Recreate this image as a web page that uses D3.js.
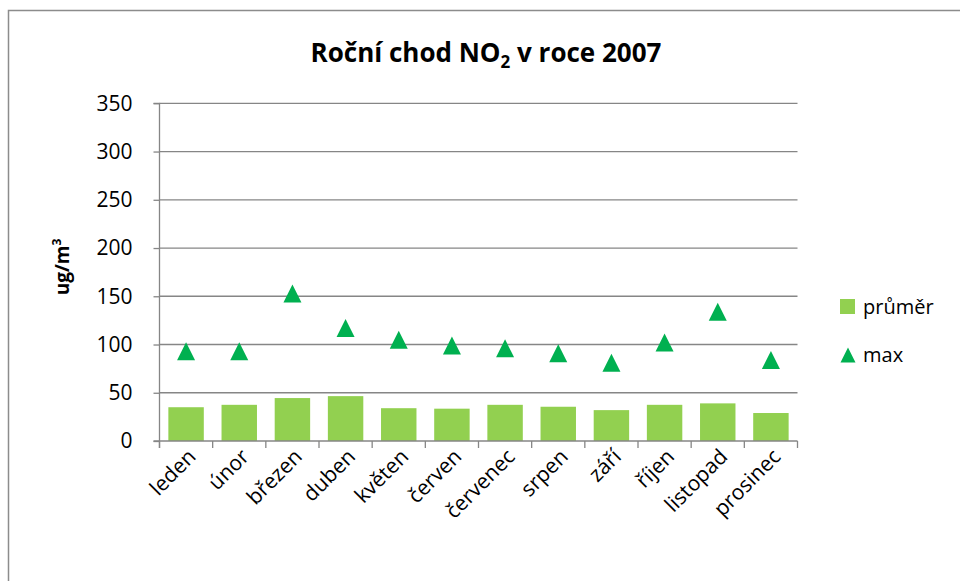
<!DOCTYPE html>
<html>
<head>
<meta charset="utf-8">
<script src="https://cdn.jsdelivr.net/npm/d3@7"></script>
<style>
  body { margin: 0; background: #fff; }
  svg { display: block; font-family: "Open Sans", sans-serif; }
</style>
</head>
<body>
<svg width="960" height="581"></svg>
<script>
// monthly NO2 values, 2007
const months = ["leden", "únor", "březen", "duben", "květen", "červen",
  "červenec", "srpen", "září", "říjen", "listopad", "prosinec"];
const prumer = [35, 37.5, 44.5, 46.5, 34, 33.5, 37.5, 35.5, 32, 37.5, 39, 29];
const maxVals = [93, 93, 153, 117, 105, 99, 96, 91, 81, 102, 134, 84];
const yTicks = [0, 50, 100, 150, 200, 250, 300, 350];

const svg = d3.select("svg");
const plotL = 159.5, plotR = 797.5, plotT = 103.3, plotB = 441;

const x = d3.scaleBand()
  .domain(months)
  .range([plotL, plotR])
  .paddingInner(1 / 3)
  .paddingOuter(1 / 6);

const y = d3.scaleLinear().domain([0, 350]).range([plotB, plotT]);

// chart border
svg.append("path")
  .attr("d", "M8.5,600 V10.5 H970")
  .attr("fill", "none")
  .attr("stroke", "#8c8c8c")
  .attr("stroke-width", 1.5);

// title
const title = svg.append("text")
  .attr("x", 486)
  .attr("y", 62)
  .attr("text-anchor", "middle")
  .attr("font-size", 26)
  .attr("font-weight", "bold")
  .attr("fill", "#000");
title.append("tspan").text("Roční chod NO");
title.append("tspan").attr("font-size", 17).attr("dy", 6).text("2");
title.append("tspan").attr("dy", -6).text(" v roce 2007");

// gridlines
svg.append("g")
  .selectAll("line")
  .data(yTicks.slice(1))
  .join("line")
  .attr("x1", plotL)
  .attr("x2", plotR)
  .attr("y1", d => y(d))
  .attr("y2", d => y(d))
  .attr("stroke", "#868686")
  .attr("stroke-width", 1.3);

// bars
svg.append("g")
  .selectAll("rect")
  .data(prumer)
  .join("rect")
  .attr("x", (d, i) => x(months[i]))
  .attr("width", x.bandwidth())
  .attr("y", d => y(d))
  .attr("height", d => y(0) - y(d))
  .attr("fill", "#92d050");

// y axis
const yAxis = svg.append("g")
  .attr("transform", `translate(${plotL},0)`)
  .call(d3.axisLeft(y).tickValues(yTicks).tickSize(6).tickPadding(21));
yAxis.select(".domain").attr("stroke", "#868686").attr("stroke-width", 1.3)
  .attr("d", `M-6,${plotT}H0V${plotB + 7}`);
yAxis.selectAll(".tick line").attr("stroke", "#868686").attr("stroke-width", 1.3);
yAxis.selectAll(".tick text")
  .attr("font-size", 21)
  .attr("font-family", "Open Sans, sans-serif")
  .attr("fill", "#000");

// x axis line and category boundary ticks
const step = x.step();
const bounds = d3.range(months.length + 1).map(i => plotL + i * step);
svg.append("line")
  .attr("x1", plotL - 6).attr("x2", plotR)
  .attr("y1", plotB).attr("y2", plotB)
  .attr("stroke", "#868686").attr("stroke-width", 1.3);
svg.append("g")
  .selectAll("line")
  .data(bounds)
  .join("line")
  .attr("x1", d => d).attr("x2", d => d)
  .attr("y1", plotB).attr("y2", plotB + 7)
  .attr("stroke", "#868686").attr("stroke-width", 1.3);

// x labels
svg.append("g")
  .selectAll("text")
  .data(months)
  .join("text")
  .attr("transform", d => `translate(${x(d) + x.bandwidth() / 2 + 11},${plotB + 17}) rotate(-45)`)
  .attr("text-anchor", "end")
  .attr("font-size", 21)
  .attr("fill", "#000")
  .text(d => d);

// max markers
const tri = s => `M0,${-s / 2}L${s / 2},${s / 2}L${-s / 2},${s / 2}Z`;
svg.append("g")
  .selectAll("path")
  .data(maxVals)
  .join("path")
  .attr("transform", (d, i) => `translate(${x(months[i]) + x.bandwidth() / 2},${y(d)})`)
  .attr("d", tri(18))
  .attr("fill", "#00b050");

// y axis title
svg.append("text")
  .attr("transform", "translate(69,267) rotate(-90)")
  .attr("text-anchor", "middle")
  .attr("font-size", 19)
  .attr("font-weight", "bold")
  .attr("fill", "#000")
  .call(t => {
    t.append("tspan").text("ug/m");
    t.append("tspan").attr("font-size", 12).attr("dy", -8).text("3");
  });

// legend
const legend = svg.append("g");
legend.append("rect")
  .attr("x", 840).attr("y", 299).attr("width", 15).attr("height", 15)
  .attr("fill", "#92d050");
legend.append("text")
  .attr("x", 863).attr("y", 314)
  .attr("font-size", 20).attr("fill", "#000")
  .text("průměr");
legend.append("path")
  .attr("transform", "translate(848,355)")
  .attr("d", tri(15))
  .attr("fill", "#00b050");
legend.append("text")
  .attr("x", 863).attr("y", 362)
  .attr("font-size", 20).attr("fill", "#000")
  .text("max");
</script>
</body>
</html>
